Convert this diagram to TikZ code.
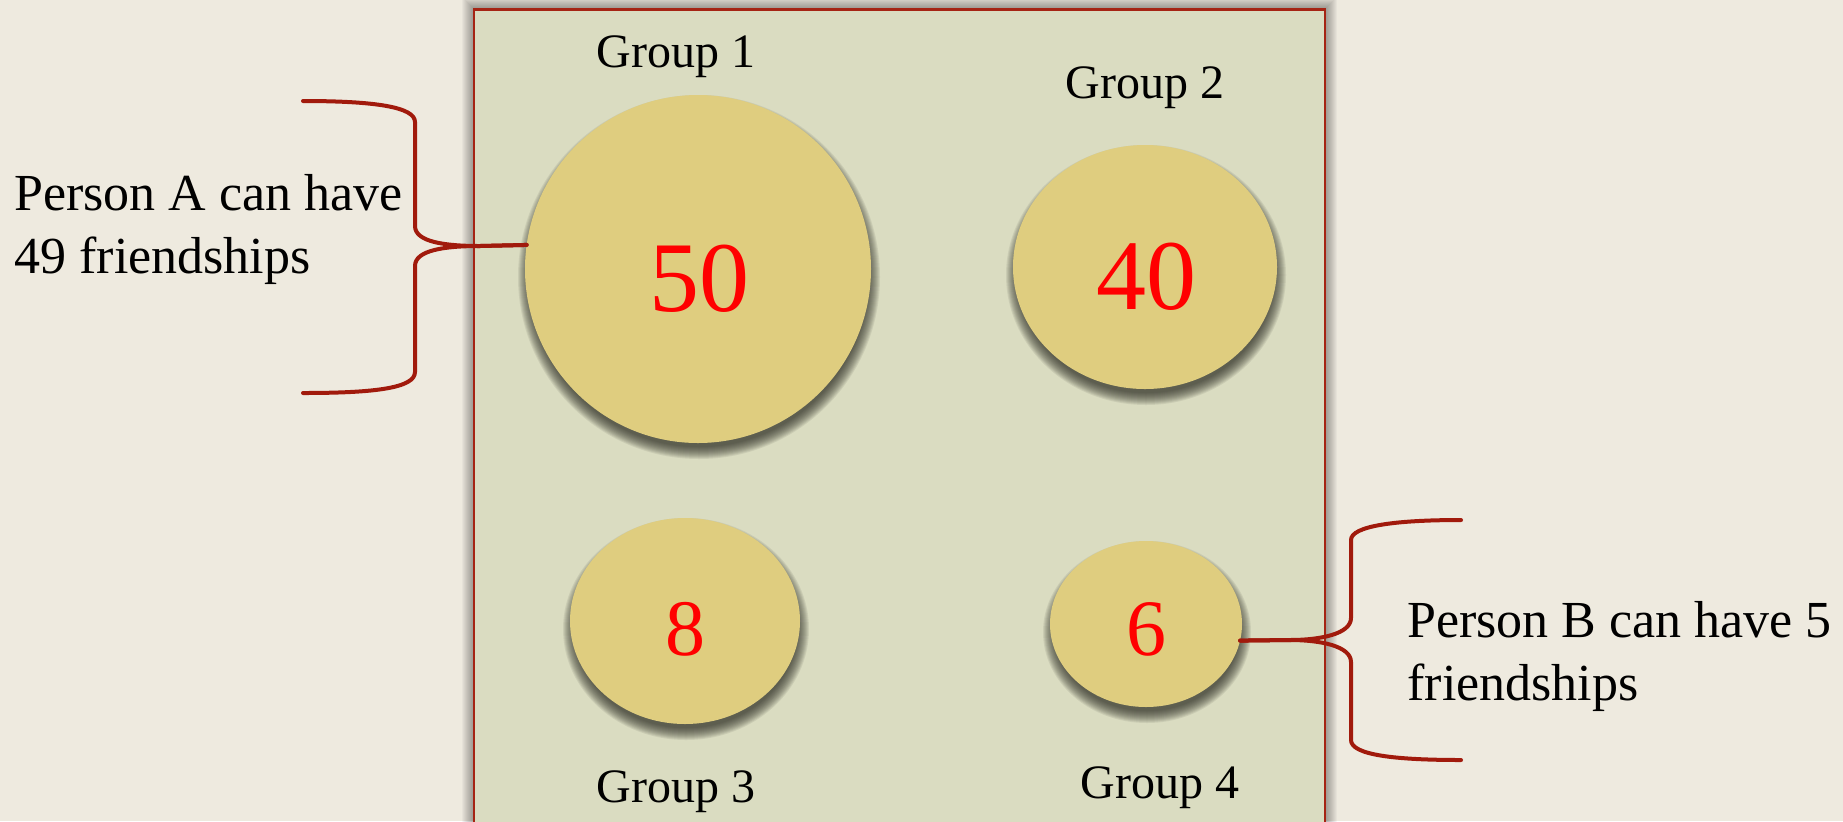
\documentclass[tikz,border=0pt]{standalone}
\usepackage{fontspec}
\setmainfont{Liberation Serif}
\usetikzlibrary{shapes.geometric}
\definecolor{bg}{HTML}{EEEADF}
\definecolor{panelfill}{HTML}{DADCC1}
\definecolor{panelline}{HTML}{A52414}
\definecolor{discfill}{HTML}{DFCD7F}
\definecolor{bracecol}{HTML}{A11A0C}
\definecolor{numred}{HTML}{FF0000}
\definecolor{shadowcol}{HTML}{2A2A22}
\newcommand{\softshadow}[4]{% cx cy rx ry
  \foreach \k in {0,...,12}{
    \fill[shadowcol,opacity=0.085] (#1,#2) ellipse [x radius={#3-4+\k}, y radius={#4-4+\k}];
  }}
\begin{document}
\begin{tikzpicture}[x=0.5pt,y=-0.5pt,
  disc/.style={ellipse, fill=discfill, inner sep=0pt, outer sep=0pt},
  bignum/.style={text=numred, font=\fontsize{50}{50}\selectfont, anchor=base, inner sep=0pt},
  smallnum/.style={text=numred, font=\fontsize{40}{40}\selectfont, anchor=base, inner sep=0pt},
  grouplabel/.style={font=\fontsize{24}{28}\selectfont, anchor=base, inner sep=0pt},
  note/.style={font=\fontsize{26}{31.5}\selectfont, anchor=base west, align=left, inner sep=0pt},
  bracestyle/.style={draw=bracecol, line width=2pt, line cap=round, line join=round}]
\useasboundingbox (0,0) rectangle (1843,821);
\clip (0,0) rectangle (1843,821);
\fill[bg] (0,0) rectangle (1843,821);
% panel shadow
\foreach \k in {0,...,12}{
  \fill[black,opacity=0.03] ({474-\k},{9-\k}) rectangle ({1325+\k},900);
}
\fill[panelfill] (474,9.5) rectangle (1325,900);
\draw[panelline, line width=1.2pt] (474,900) -- (474,9.5) -- (1325,9.5) -- (1325,900);
% disc shadows
\softshadow{699}{277}{173}{174}
\softshadow{1146}{275}{132}{122}
\softshadow{686}{629}{115}{103}
\softshadow{1147}{632}{96}{83}
% discs
\node[disc, minimum width=173pt, minimum height=174pt] (g1) at (698,269) {};
\node[disc, minimum width=132pt, minimum height=122pt] (g2) at (1145,267) {};
\node[disc, minimum width=115pt, minimum height=103pt] (g3) at (685,621) {};
\node[disc, minimum width=96pt, minimum height=83pt] (g4) at (1146,624) {};
% numbers
\node[bignum] (n1) at (699,311) {50};
\node[bignum] (n2) at (1146,309) {40};
\node[smallnum] (n3) at (685,655) {8};
\node[smallnum] (n4) at (1146,655) {6};
% group labels
\node[grouplabel] (l1) at (676,67) {Group 1};
\node[grouplabel] (l2) at (1145,98) {Group 2};
\node[grouplabel] (l3) at (676,802) {Group 3};
\node[grouplabel] (l4) at (1160,798) {Group 4};
% notes (anchor = baseline of last line)
\node[note] (pa) at (14,273) {Person A can have\\49 friendships};
\node[note] (pb) at (1407,700) {Person B can have 5\\friendships};
% braces
\coordinate (Atop) at (303,101);
\coordinate (Abot) at (303,393);
\coordinate (Btop) at (1461,520);
\coordinate (Bbot) at (1461,760);
\draw[bracestyle] (Atop) .. controls (375,101) and (415,107) .. (415,122) -- (415,226)
  .. controls (415,242) and (445,246) .. (480,246) -- (g1.172.4);
\draw[bracestyle] (g1.172.4) -- (480,246) .. controls (445,246) and (415,250) .. (415,266)
  -- (415,372) .. controls (415,388) and (375,393) .. (Abot);
\draw[bracestyle] (Btop) .. controls (1395,520) and (1351,526) .. (1351,540) -- (1351,618)
  .. controls (1351,634) and (1320,640) .. (1290,640) -- (g4.350);
\draw[bracestyle] (g4.350) -- (1290,640) .. controls (1320,640) and (1351,646) .. (1351,662)
  -- (1351,740) .. controls (1351,755) and (1395,760) .. (Bbot);
\end{tikzpicture}
\end{document}
